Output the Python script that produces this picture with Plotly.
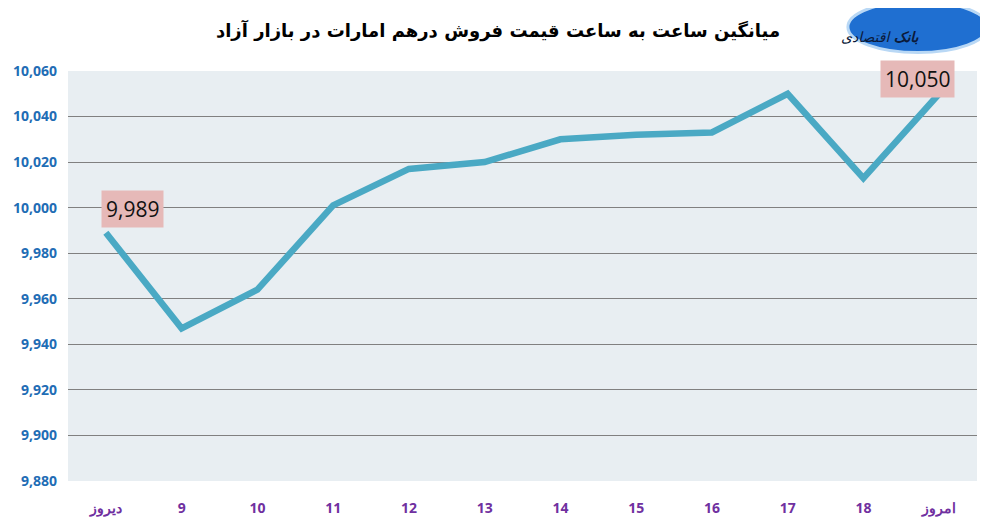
"""
Nerkh-e dirham dar bazar-e azad: miyangin-e saati (plot.py)
"""

import plotly.graph_objects as go

# categorie (ore del giorno) e valori medi
CATEGORIES = ["دیروز", "9", "10", "11", "12", "13", "14", "15", "16", "17", "18", "امروز"]
PRICES = [9989, 9947, 9964, 10001, 10017, 10020, 10030, 10032, 10033, 10050, 10013, 10050]

Y_TICKS = [9880, 9900, 9920, 9940, 9960, 9980, 10000, 10020, 10040, 10060]
Y_TICK_LABELS = ["9,880", "9,900", "9,920", "9,940", "9,960", "9,980",
                 "10,000", "10,020", "10,040", "10,060"]

TITLE = "میانگین ساعت به ساعت قیمت فروش درهم امارات در بازار آزاد"

LINE_COLOR = "#4aa9c4"
LABEL_BG = "#e6b9b8"

fig = go.Figure()
fig.add_trace(go.Scatter(
    x=CATEGORIES, y=PRICES, mode="lines",
    line=dict(color=LINE_COLOR, width=6.5),
    showlegend=False, hoverinfo="skip",
))

# etichette solo sul primo e sull'ultimo punto
for idx, dx, dy in [(0, 27, 24), (-1, -22, 15)]:
    fig.add_annotation(
        x=CATEGORIES[idx], y=PRICES[idx], text=f"{PRICES[idx]:,}",
        showarrow=False, xshift=dx, yshift=dy,
        bgcolor=LABEL_BG, borderpad=4,
        font=dict(family="Open Sans", size=21, color="#111111"),
    )

# logo in alto a destra (approssimato)
fig.add_shape(type="circle", xref="paper", yref="paper",
              x0=0.858, x1=1.012, y0=1.045, y1=1.17,
              fillcolor="#1f6fd1", line=dict(color="#b9d8f5", width=3), layer="above")
fig.add_annotation(xref="paper", yref="paper", x=0.94, y=1.107,
                   text="<b><i>بانک</i></b><i> اقتصادی</i>", showarrow=False,
                   font=dict(family="DejaVu Sans", size=14, color="#0b1a3a"))

# la pagina ha 8px di margine del body: figura un po' piu' piccola
fig.update_layout(
    width=980, height=512,
    margin=dict(l=60, r=11, t=63, b=39),
    paper_bgcolor="white", plot_bgcolor="#e8eef2",
    title=dict(text=f"<b>{TITLE}</b>", x=0.5, xanchor="center", y=0.955, yanchor="middle",
               font=dict(family="DejaVu Sans", size=18, color="black")),
    font=dict(family="Open Sans"),
)
fig.update_xaxes(
    range=[-0.5, len(CATEGORIES) - 0.5],
    showgrid=False, showline=False, ticks="",
    tickfont=dict(family="Open Sans", size=14, color="#7030a0", weight="bold"),
    ticklabelstandoff=17, automargin=False,
)
fig.update_yaxes(
    range=[9880, 10060], tickvals=Y_TICKS, ticktext=Y_TICK_LABELS,
    showgrid=True, gridcolor="#808080", gridwidth=1.3, zeroline=False,
    showline=False, ticks="",
    tickfont=dict(family="Open Sans", size=14, color="#1f6db5", weight="bold"),
    ticklabelstandoff=10, automargin=False,
)

fig.write_html("out.html")
